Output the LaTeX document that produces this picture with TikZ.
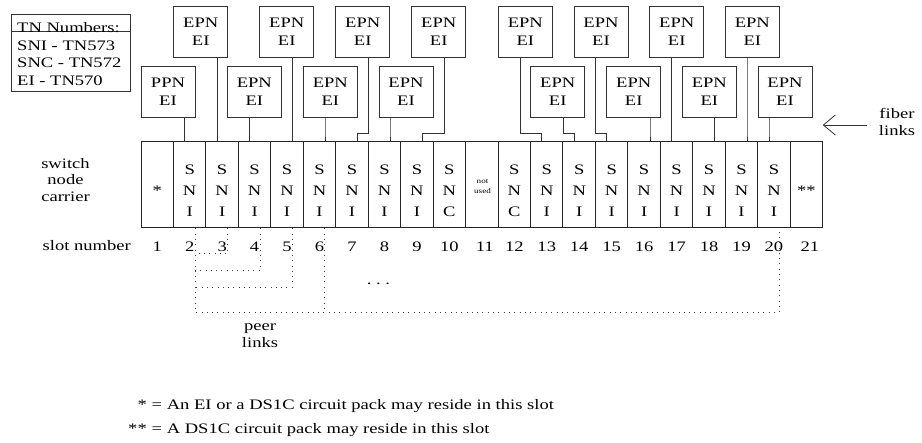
\documentclass[tikz,border=0pt]{standalone}
\usepackage{fontspec}
\setmainfont{Liberation Serif}[FakeStretch=1.28]
\usetikzlibrary{arrows.meta,calc}
\begin{document}
\begin{tikzpicture}[x=1pt,y=-1pt,
  every node/.style={font=\fontsize{14.5}{18.4}\selectfont, text=black},
  ln/.style={line width=0.9pt, draw=black!80},
  epn/.style={draw=black!80, line width=0.9pt, minimum width=54pt, minimum height=51pt, inner sep=0pt, align=center},
  slotbox/.style={draw=black!85, line width=1pt, minimum width=32.46pt, minimum height=86pt, inner sep=0pt},
  slottxt/.style={align=center, inner sep=0pt, font=\fontsize{14.5}{20.8}\selectfont},
  peer/.style={draw=black!75, line width=0.8pt, dash pattern=on 0.8pt off 4.5pt},
  ]
\useasboundingbox (0,0) rectangle (922,443);

% slots of the carrier
\foreach \i in {1,...,21} {
  \node[slotbox] (s\i) at ({141+(\i-0.5)*32.46},185) {};
}
\foreach \i in {2,3,4,5,6,7,8,9,13,14,15,16,17,18,19,20} {
  \node[slottxt] at ($(s\i)+(0,5.6)$) {S\\N\\I};
}
\foreach \i in {10,12} {
  \node[slottxt] at ($(s\i)+(0,5.6)$) {S\\N\\C};
}
\node at ($(s1)+(0,6)$) {*};
\node at ($(s21)+(0,6)$) {**};
\node[align=center, font=\fontsize{7.1}{10}\selectfont] at ($(s11)+(0.7,2)$) {not\\used};

% slot numbers
\foreach \i in {1,...,10,12,13,14,15,16,17,18,19,20} {
  \node at ($(s\i.south)+(0,18)$) {\i};
}
\node at ($(s11.south)+(3,18)$) {11};
\node at ($(s21.south)+(3.5,18)$) {21};

% left labels
\node[align=center, font=\fontsize{14.5}{16.7}\selectfont] (snc) at (65.5,180) {switch\\node\\carrier};
\node (sn) at (86.8,246) {slot number};

% TN numbers box
\node[draw=black!80, line width=0.9pt, minimum width=118.3pt, minimum height=76.7pt, inner sep=0pt] (tn) at (70.85,52.65) {};
\draw[ln] ($(tn.north west)+(0,17.4)$) -- ($(tn.north east)+(0,17.4)$);
\node[align=left, anchor=north west, inner sep=0pt, font=\fontsize{14.5}{17.6}\selectfont] (tnt) at (17,22.4) {TN Numbers:\\SNI - TN573\\SNC - TN572\\EI - TN570};

% EI boxes and fiber links to slots
\foreach \s/\t/\r/\bx/\lx/\jx in {
  2/PPN/91.5/141/184.3/184.3,
  3/EPN/31.5/173.7/217.3/217.3,
  4/EPN/91.5/227.3/249.3/249.3,
  5/EPN/31.5/259.7/292.7/292.7,
  6/EPN/91.5/303.3/325/325,
  7/EPN/31.5/335.7/368.3/357.3,
  8/EPN/91.5/379/390/390,
  9/EPN/31.5/411.7/444.3/422.3,
  13/EPN/31.5/498.3/520/541.7,
  14/EPN/91.5/530.7/563.3/574,
  15/EPN/31.5/574/595.7/606.7,
  16/EPN/91.5/606.7/650/650,
  17/EPN/31.5/649.7/671.3/671.3,
  18/EPN/91.5/682.3/714.7/714.7,
  19/EPN/31.5/725.3/747/747,
  20/EPN/91.5/758/769/769} {
  \node[epn] (b\s) at (\bx+27,\r) {\t\\EI};
  \coordinate (L) at (\lx,0);
  \coordinate (J) at (\jx,133.3);
  \draw[ln] (b\s.south -| L) -- (L |- J) -- (J) -- (s\s.north -| J);
}

% fiber links label and arrow
\node[align=center, font=\fontsize{14.5}{17}\selectfont] (fl) at (897,121.5) {fiber\\links};
\coordinate (fa) at (866.7,125);
\coordinate (fb) at (822.7,125);
\draw[line width=0.8pt, draw=black!80, -{Straight Barb[length=12pt,width=20pt]}] (fa) -- (fb);

% peer links
\coordinate (y1) at (0,253.7);
\coordinate (y2) at (0,270.3);
\coordinate (y3) at (0,287);
\coordinate (y4) at (0,312);
\foreach \i in {2,3,4,5,6,20} {
  \coordinate (p\i) at ($(s\i.south)+(5.3,0)$);
}
\draw[peer] (p2) -- (p2 |- y4) -- (p20 |- y4) -- (p20);
\draw[peer] (p3) |- (p2 |- y1);
\draw[peer] (p4) |- (p2 |- y2);
\draw[peer] (p5) |- (p2 |- y3);
\draw[peer] (p6) -- (p6 |- y4);
\node[anchor=base] (dots) at (378.5,285) {.~.~.};
\node[align=center, font=\fontsize{14.5}{17}\selectfont] (pl) at (260,336) {peer\\links};

% footnotes
\node[anchor=base east, inner sep=0pt] (f1s) at (147,410) {*};
\node[anchor=base west, inner sep=0pt] (f1) at (151.5,410) {= An EI or a DS1C circuit pack may reside in this slot};
\node[anchor=base east, inner sep=0pt] (f2s) at (147,434) {**};
\node[anchor=base west, inner sep=0pt] (f2) at (151.5,434) {= A DS1C circuit pack may reside in this slot};
\end{tikzpicture}
\end{document}
